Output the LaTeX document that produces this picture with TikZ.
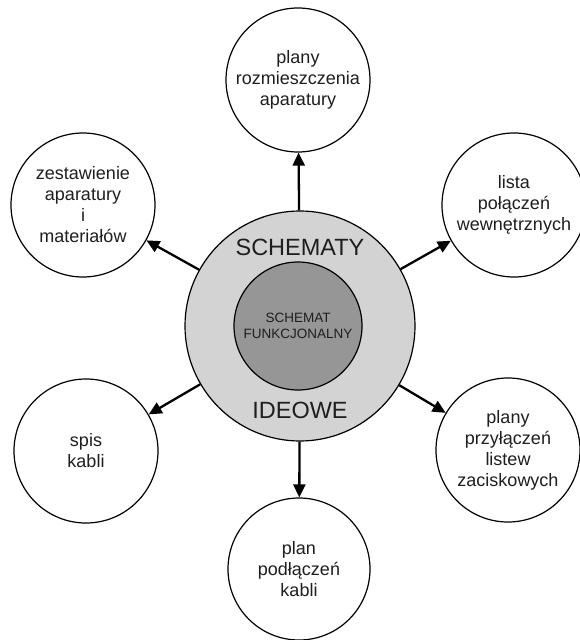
\documentclass[tikz,border=0pt]{standalone}
\usepackage{fontspec}
\setmainfont{Liberation Sans}
\usetikzlibrary{arrows.meta}
\definecolor{outerfill}{RGB}{211,211,211}
\definecolor{innerfill}{RGB}{150,150,150}
\definecolor{txt}{RGB}{30,30,30}
\begin{document}
\begin{tikzpicture}[x=1pt,y=-1pt,
  small/.style={circle,draw=black,line width=1.2pt,fill=white,minimum size=144pt,inner sep=0pt,
    align=center,text=txt,font=\fontsize{18}{21}\selectfont},
  arr/.style={line width=2.3pt,-{Triangle[length=13pt,width=12pt]}}]
\clip (0,0) rectangle (580,640);
\fill[white] (0,0) rectangle (580,640);
\node[circle,draw=black,line width=1.2pt,fill=outerfill,minimum size=230pt,inner sep=0pt] (big) at (300,326) {};
\node[circle,draw=black,line width=1.2pt,fill=innerfill,minimum size=128pt,inner sep=0pt,
  align=center,text=txt,font=\fontsize{13.5}{15.5}\selectfont] (inner) at (298,326) {SCHEMAT\\FUNKCJONALNY};
\node[font=\fontsize{23.5}{26}\selectfont,text=txt] (t1) at (300,247) {SCHEMATY};
\node[font=\fontsize{23.5}{26}\selectfont,text=txt] (t2) at (300,410) {IDEOWE};
\node[small] (top) at (298,80) {plany\\rozmieszczenia\\aparatury};
\node[small] (ul) at (83,205) {zestawienie\\aparatury\\i\\materiałów};
\node[small] (ur) at (514,205) {lista\\połączeń\\wewnętrznych};
\node[small] (ll) at (86,451) {spis\\kabli};
\node[small] (lr) at (508,450) {plany\\przyłączeń\\listew\\zaciskowych};
\node[small,minimum size=142pt] (bot) at (299,569) {plan\\podłączeń\\kabli};
\draw[arr] (big) -- (top);
\draw[arr] (big) -- (ul);
\draw[arr] (big) -- (ur);
\draw[arr] (big) -- (ll);
\draw[arr] (big) -- (lr);
\draw[arr] (big) -- (bot);
\end{tikzpicture}
\end{document}
